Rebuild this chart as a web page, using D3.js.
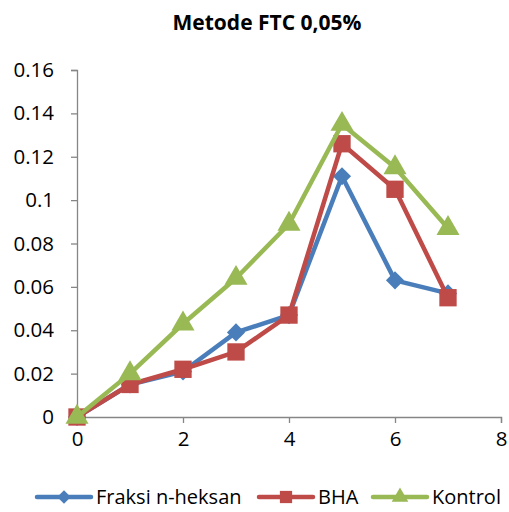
<!DOCTYPE html>
<html>
<head>
<meta charset="utf-8">
<script src="https://cdn.jsdelivr.net/npm/d3@7"></script>
<style>
  body { margin: 0; background: #fff; }
  text { font-family: "Open Sans", "Noto Sans", sans-serif; }
</style>
</head>
<body>
<div class="chart"></div>
<script>
// data
const days = [0, 1, 2, 3, 4, 5, 6, 7];
const fraksi = [0, 0.015, 0.021, 0.039, 0.047, 0.111, 0.063, 0.057];
const bha = [0, 0.015, 0.022, 0.030, 0.047, 0.126, 0.105, 0.055];
const kontrol = [0, 0.020, 0.043, 0.064, 0.089, 0.135, 0.115, 0.087];
const xTicks = [0, 2, 4, 6, 8];
const yTicks = [0, 0.02, 0.04, 0.06, 0.08, 0.1, 0.12, 0.14, 0.16];

// diamond = square turned 45 degrees, like the spreadsheet marker
const series = [
  { name: 'Fraksi n-heksan', values: fraksi, color: '#4a7ebb', shape: d3.symbolSquare, rot: 45, size: 165, lsize: 90 },
  { name: 'BHA', values: bha, color: '#be4b48', shape: d3.symbolSquare, rot: 0, size: 300, lsize: 150 },
  { name: 'Kontrol', values: kontrol, color: '#98b954', shape: d3.symbolTriangle, rot: 0, size: 230, lsize: 120 },
];

const width = 509,
  height = 512,
  margin = { left: 77, right: 8, top: 70, bottom: 95 };

const svg = d3.select('.chart')
  .append('svg')
  .attr('width', width)
  .attr('height', height);

const x = d3.scaleLinear().domain([0, 8]).range([margin.left, width - margin.right]);
const y = d3.scaleLinear().domain([0, 0.16]).range([height - margin.bottom, margin.top]);

svg.append('text')
  .attr('x', 267)
  .attr('y', 30)
  .attr('text-anchor', 'middle')
  .style('font-size', '21px')
  .style('font-weight', 'bold')
  .text('Metode FTC 0,05%');

// axes
const yAxis = svg.append('g')
  .attr('transform', 'translate(' + margin.left + ',0)')
  .call(d3.axisLeft(y).tickValues(yTicks).tickSize(6).tickPadding(17)
    .tickFormat(d => d3.format('')(+d.toFixed(2))));
const xAxis = svg.append('g')
  .attr('transform', 'translate(0,' + y(0) + ')')
  .call(d3.axisBottom(x).tickValues(xTicks).tickSize(6).tickPadding(8));

[xAxis, yAxis].forEach(g => {
  g.select('.domain').attr('stroke', '#868686').attr('stroke-width', 1.3);
  g.selectAll('.tick line').attr('stroke', '#868686').attr('stroke-width', 1.3);
  g.selectAll('.tick text').attr('fill', '#000').style('font-size', '20.5px')
    .style('font-family', '"Open Sans", "Noto Sans", sans-serif');
});

const line = d3.line()
  .x((d, i) => x(days[i]))
  .y(d => y(d));

series.forEach(s => {
  const g = svg.append('g');
  g.append('path')
    .attr('d', line(s.values))
    .attr('fill', 'none')
    .attr('stroke', s.color)
    .attr('stroke-width', 4.5)
    .attr('stroke-linejoin', 'round');
  g.selectAll('path.mark')
    .data(s.values)
    .enter()
    .append('path')
    .attr('class', 'mark')
    .attr('d', d3.symbol().type(s.shape).size(s.size))
    .attr('transform', (d, i) => 'translate(' + x(days[i]) + ',' + y(d) + ') rotate(' + s.rot + ')')
    .attr('fill', s.color);
});

// legend
const legendX = [37, 259, 373];
const legend = svg.selectAll('.legend')
  .data(series)
  .enter()
  .append('g')
  .attr('class', 'legend')
  .attr('transform', (d, i) => 'translate(' + legendX[i] + ',497)');
legend.append('line')
  .attr('x1', 0).attr('x2', 54)
  .attr('stroke', d => d.color)
  .attr('stroke-width', 4.5)
  .attr('stroke-linecap', 'round');
legend.append('path')
  .attr('d', d => d3.symbol().type(d.shape).size(d.lsize)())
  .attr('transform', d => 'translate(27,0) rotate(' + d.rot + ')')
  .attr('fill', d => d.color);
legend.append('text')
  .attr('x', 59)
  .attr('y', 7)
  .style('font-size', '20px')
  .text(d => d.name);
</script>
</body>
</html>
